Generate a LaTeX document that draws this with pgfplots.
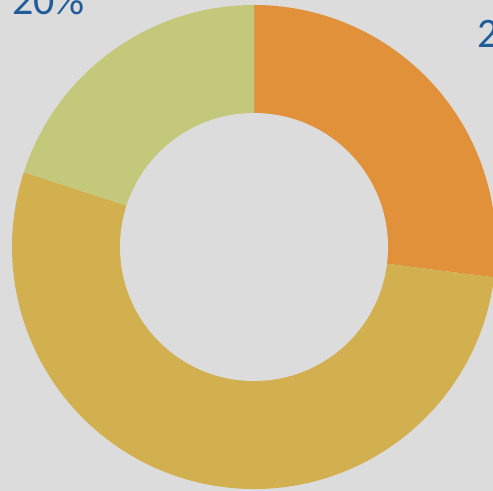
\documentclass[border=0pt]{standalone}
\usepackage{pgfplots}
\pgfplotsset{compat=1.18}
\usepackage{fontspec}
\setmainfont{Carlito}
\definecolor{bg}{HTML}{DCDCDC}
\definecolor{sorange}{HTML}{E0913A}
\definecolor{sgold}{HTML}{D2B04F}
\definecolor{sgreen}{HTML}{C4C87A}
\definecolor{lblue}{HTML}{1F5C99}
% ring geometry in px (1px = 0.5pt)
\def\cx{254}\def\cy{244}
\def\Ro{121pt}\def\Ri{67pt}
\newcommand{\slice}[3]{% start angle, end angle, colour
  \fill[#3] (axis cs:\cx,\cy) -- ++(#1:\Ro) arc[start angle=#1, end angle=#2, radius=\Ro] -- cycle;}
\begin{document}
\begin{tikzpicture}
\path[use as bounding box] (0,0) rectangle (246.5pt,245.5pt);
\clip (0,0) rectangle (246.5pt,245.5pt);
\begin{axis}[
  at={(0,0)}, anchor=south west,
  x=0.5pt, y=0.5pt,
  xmin=0, xmax=493, ymin=0, ymax=491,
  disabledatascaling,
  hide axis, clip=false,
]
\addplot[draw=none, fill=bg] coordinates {(0,0) (493,0) (493,491) (0,491)} -- cycle;
% values (percent): 27, 53, 20, clockwise from 12 o'clock
\slice{90}{90-27*3.6}{sorange}
\slice{90-27*3.6}{90-80*3.6}{sgold}
\slice{90-80*3.6}{90-100*3.6}{sgreen}
\fill[bg] (axis cs:\cx,\cy) circle[radius=\Ri];
\node[anchor=base west, inner sep=0, text=lblue, font=\fontsize{21pt}{24pt}\selectfont] at (axis cs:12,476) {20\%};
\node[anchor=base west, inner sep=0, text=lblue, font=\fontsize{21pt}{24pt}\selectfont] at (axis cs:477,443) {27\%};
\end{axis}
\end{tikzpicture}
\end{document}
